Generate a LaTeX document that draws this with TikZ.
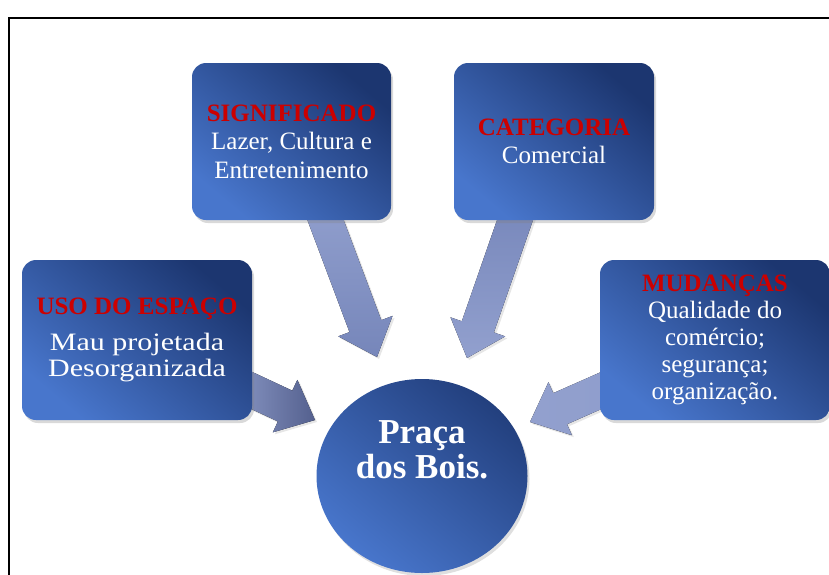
\documentclass[tikz,border=0pt]{standalone}
\usepackage{fontspec}
\setmainfont{Liberation Serif}
\newfontfamily\widefont[FakeStretch=1.2]{Liberation Serif}
\usetikzlibrary{positioning, calc, shadows, backgrounds, shapes.geometric}
\definecolor{boxdark}{RGB}{28, 54, 112}
\definecolor{boxlight}{RGB}{72, 118, 204}
\definecolor{titlered}{RGB}{204, 0, 0}
\definecolor{flowlight}{RGB}{146, 160, 206}
\definecolor{flowmid}{RGB}{118, 134, 186}
\definecolor{flowdark}{RGB}{84, 96, 142}

\newcommand\heading[1]{{\bfseries\color{titlered}#1}}
% block arrow from tail to tip
\newcommand\flowarrow[3][]{%
  \coordinate (#2-base) at ($(#3)!33pt!(#2)$);
  \fill[flow, #1] ($(#2)!17pt!90:(#3)$) -- ($(#2-base)!17pt!90:(#3)$)
    -- ($(#2-base)!29pt!90:(#3)$) -- (#3) -- ($(#2-base)!29pt!-90:(#3)$)
    -- ($(#2-base)!17pt!-90:(#3)$) -- ($(#2)!17pt!-90:(#3)$) -- cycle;
}

\begin{document}
\begin{tikzpicture}[x=1pt, y=-1pt,
  topic/.style={rounded corners=14pt, align=center, text=white,
    top color=boxdark, bottom color=boxlight, shading angle=-40,
    drop shadow={opacity=0.3, shadow xshift=2pt, shadow yshift=-3pt},
    font=\fontsize{25}{28.5}\selectfont, inner sep=2pt},
  hub/.style={ellipse, minimum width=211pt, minimum height=194pt,
    top color=boxdark!85!boxlight, bottom color=boxlight, shading angle=-40,
    drop shadow={opacity=0.25, shadow xshift=2pt, shadow yshift=-3pt}},
  hubtext/.style={align=center, text=white, font=\bfseries\fontsize{35}{35}\selectfont},
  flow/.style={drop shadow={opacity=0.2, shadow xshift=2pt, shadow yshift=-2pt}}]
  \useasboundingbox (0,0) rectangle (829,574);

  % frame
  \draw[line width=2pt] (9,580) -- (9,18) -- (835,18);

  % topics
  \node[topic, minimum width=199pt, minimum height=157pt] (sig) at (291.5,141.5)
    {\heading{SIGNIFICADO}\\Lazer, Cultura e\\Entretenimento};
  \node[topic, minimum width=200pt, minimum height=157pt] (cat) at (554,141.5)
    {\heading{CATEGORIA}\\Comercial};
  \node[topic, minimum width=230pt, minimum height=160pt,
    font=\fontsize{25}{26.5}\selectfont] (uso) at (137,340)
    {\heading{USO DO ESPAÇO}\\[9pt]{\widefont Mau projetada}\\{\widefont Desorganizada}};
  \node[topic, minimum width=230pt, minimum height=160pt,
    font=\fontsize{25}{27}\selectfont] (mud) at (715,340)
    {\heading{MUDANÇAS}\\Qualidade do\\comércio;\\segurança;\\organização.};

  % centre
  \node[hub] (hub) at (422,476) {};
  \node[hubtext] (hublabel) at ([yshift=26pt]hub.center) {Praça\\dos Bois.};

  % arrows
  \coordinate (sig-tail) at (318,200);
  \coordinate (sig-tip) at (377,357);
  \coordinate (cat-tail) at (522,200);
  \coordinate (cat-tip) at (467,358);
  \coordinate (uso-tail) at (225,378);
  \coordinate (uso-tip) at (315,420);
  \coordinate (mud-tail) at (625,380);
  \coordinate (mud-tip) at (530,422);
  \begin{scope}[on background layer]
    \flowarrow[top color=flowlight, bottom color=flowmid]{sig-tail}{sig-tip}
    \flowarrow[top color=flowmid, bottom color=flowlight]{cat-tail}{cat-tip}
    \flowarrow[left color=flowlight, right color=flowdark]{uso-tail}{uso-tip}
    \flowarrow[left color=flowlight, right color=flowlight!90!flowmid]{mud-tail}{mud-tip}
  \end{scope}
\end{tikzpicture}
\end{document}
